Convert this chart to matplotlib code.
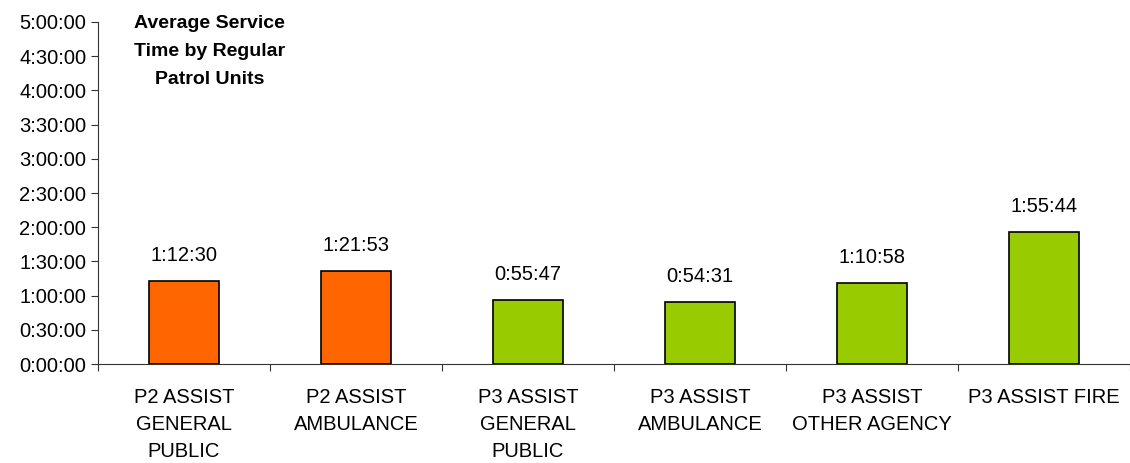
import matplotlib.pyplot as plt
from matplotlib.ticker import FuncFormatter

plt.rcParams['font.family'] = ['Liberation Sans', 'DejaVu Sans']

categories = ['P2 ASSIST\nGENERAL\nPUBLIC', 'P2 ASSIST\nAMBULANCE', 'P3 ASSIST\nGENERAL\nPUBLIC',
              'P3 ASSIST\nAMBULANCE', 'P3 ASSIST\nOTHER AGENCY', 'P3 ASSIST FIRE']
times = ['1:12:30', '1:21:53', '0:55:47', '0:54:31', '1:10:58', '1:55:44']
colors = ['#FF6600', '#FF6600', '#99CC00', '#99CC00', '#99CC00', '#99CC00']


def to_sec(s):
    h, m, sec = s.split(':')
    return int(h) * 3600 + int(m) * 60 + int(sec)


def fmt(v, pos=None):
    v = int(round(v))
    return '%d:%02d:%02d' % (v // 3600, (v % 3600) // 60, v % 60)


values = [to_sec(t) for t in times]
x = list(range(len(categories)))

fig = plt.figure(figsize=(11.3, 4.63), dpi=100)
ax = fig.add_axes([0.0867, 0.2138, 0.9133, 0.7387])

ax.bar(x, values, width=0.41, color=colors, edgecolor='black', linewidth=1.2)
for i, v in enumerate(values):
    ax.text(i, v + 850, times[i], ha='center', va='bottom', fontsize=14.5)

ax.set_xlim(-0.5, len(categories) - 0.5)
ax.set_ylim(0, 5 * 3600)
ax.set_yticks(range(0, 5 * 3600 + 1, 1800))
ax.yaxis.set_major_formatter(FuncFormatter(fmt))
ax.tick_params(axis='y', labelsize=14.5, length=5, direction='out', color='#333333')

# ticks on x sit between the categories
ax.set_xticks([i - 0.5 for i in range(len(categories) + 1)])
ax.set_xticklabels([])
ax.set_xticks(x, minor=True)
ax.set_xticklabels(categories, minor=True, fontsize=14.5, linespacing=1.55, va='top')
ax.tick_params(axis='x', which='major', length=5, color='#333333')
ax.tick_params(axis='x', which='minor', length=0, pad=17)

ax.spines['top'].set_visible(False)
ax.spines['right'].set_visible(False)
ax.spines['left'].set_color('#333333')
ax.spines['bottom'].set_color('#333333')

ax.text(0.108, 1.02, 'Average Service\nTime by Regular\nPatrol Units', transform=ax.transAxes,
        ha='center', va='top', fontsize=14, fontweight='bold', linespacing=1.85)

fig.savefig('out.png', dpi=100)
